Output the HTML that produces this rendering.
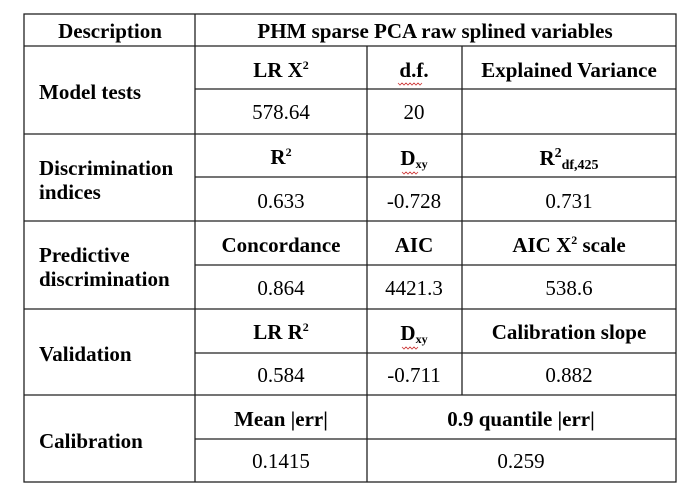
<!DOCTYPE html>
<html><head><style>body{margin:0;background:#fff}</style></head><body>
<svg width="690" height="496" xmlns="http://www.w3.org/2000/svg" font-family="Liberation Serif, serif" font-size="21">
<rect width="690" height="496" fill="#fff"/>
<g stroke="#222" stroke-width="1.3" fill="none">
<rect x="24" y="14" width="652" height="468"/>
<line x1="195" y1="14" x2="195" y2="482"/>
<line x1="24" y1="46" x2="676" y2="46"/>
<line x1="24" y1="134" x2="676" y2="134"/>
<line x1="24" y1="221" x2="676" y2="221"/>
<line x1="24" y1="309" x2="676" y2="309"/>
<line x1="24" y1="395" x2="676" y2="395"/>
<line x1="195" y1="89" x2="676" y2="89"/>
<line x1="195" y1="177" x2="676" y2="177"/>
<line x1="195" y1="265" x2="676" y2="265"/>
<line x1="195" y1="353" x2="676" y2="353"/>
<line x1="195" y1="439" x2="676" y2="439"/>
<line x1="367" y1="46" x2="367" y2="482"/>
<line x1="462" y1="46" x2="462" y2="395"/>
</g>
<g font-weight="bold" text-anchor="middle">
<text x="110" y="38">Description</text>
<text x="435" y="38">PHM sparse PCA raw splined variables</text>
<text x="281" y="77">LR X<tspan font-size="12" dy="-8">2</tspan></text>
<text x="414" y="77">d.f.</text>
<text x="569" y="77">Explained Variance</text>
<text x="281" y="164">R<tspan font-size="12" dy="-8">2</tspan></text>
<text x="414" y="165">D<tspan font-size="12" dy="3">xy</tspan></text>
<text x="569" y="165">R<tspan font-size="14" dy="-8">2</tspan><tspan font-size="14" dy="12">df,425</tspan></text>
<text x="281" y="252">Concordance</text>
<text x="414" y="252">AIC</text>
<text x="569" y="252">AIC X<tspan font-size="12" dy="-8">2</tspan><tspan dy="8"> scale</tspan></text>
<text x="281" y="339">LR R<tspan font-size="12" dy="-8">2</tspan></text>
<text x="414" y="340">D<tspan font-size="12" dy="3">xy</tspan></text>
<text x="569" y="339">Calibration slope</text>
<text x="281" y="426">Mean |err|</text>
<text x="521" y="426">0.9 quantile |err|</text>
</g>
<g font-weight="bold">
<text x="39" y="99">Model tests</text>
<text x="39" y="175">Discrimination</text>
<text x="39" y="199">indices</text>
<text x="39" y="262">Predictive</text>
<text x="39" y="286">discrimination</text>
<text x="39" y="361">Validation</text>
<text x="39" y="448">Calibration</text>
</g>
<g text-anchor="middle">
<text x="281" y="119">578.64</text>
<text x="414" y="119">20</text>
<text x="281" y="208">0.633</text>
<text x="414" y="208">-0.728</text>
<text x="569" y="208">0.731</text>
<text x="281" y="295">0.864</text>
<text x="414" y="295">4421.3</text>
<text x="569" y="295">538.6</text>
<text x="281" y="382">0.584</text>
<text x="414" y="382">-0.711</text>
<text x="569" y="382">0.882</text>
<text x="281" y="468">0.1415</text>
<text x="521" y="468">0.259</text>
</g>
<g stroke="#c33" stroke-width="0.8" fill="none">
<path d="M398 83 l2 2 l2 -2 l2 2 l2 -2 l2 2 l2 -2 l2 2 l2 -2 l2 2 l2 -2 l2 2 l2 -2"/>
<path d="M402 172 l2 2 l2 -2 l2 2 l2 -2 l2 2 l2 -2 l2 2 l2 -2"/>
<path d="M402 347 l2 2 l2 -2 l2 2 l2 -2 l2 2 l2 -2 l2 2 l2 -2"/>
</g>
</svg>
</body></html>
